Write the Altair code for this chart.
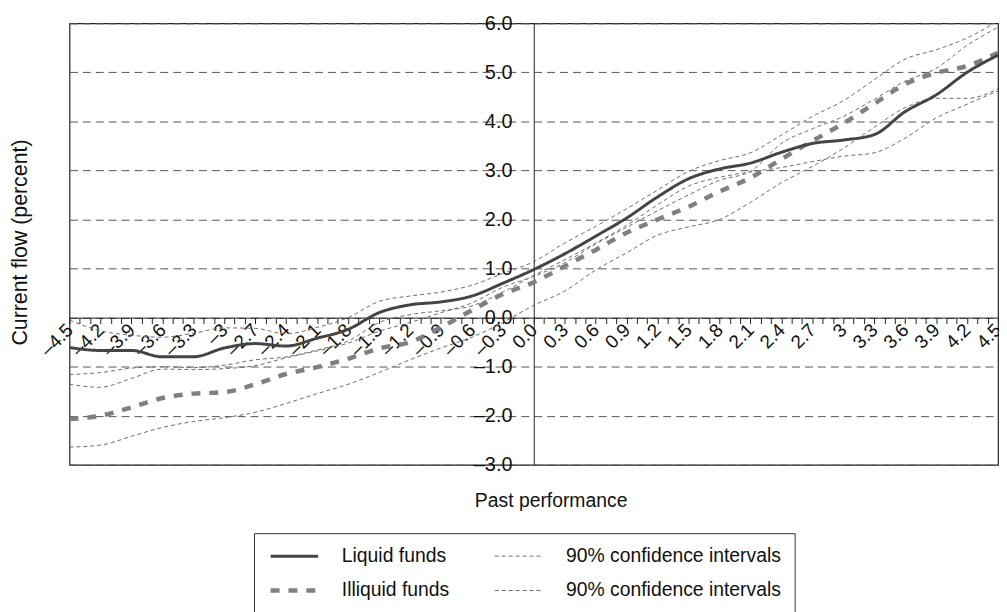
import altair as alt
import pandas as pd

x_vals = [-4.5, -4.2, -3.9, -3.6, -3.3, -3.0, -2.7, -2.4, -2.1, -1.8, -1.5, -1.2, -0.9, -0.6, -0.3,
          0.0, 0.3, 0.6, 0.9, 1.2, 1.5, 1.8, 2.1, 2.4, 2.7, 3.0, 3.3, 3.6, 3.9, 4.2, 4.5]

liquid = [-0.61, -0.67, -0.67, -0.80, -0.80, -0.62, -0.53, -0.58, -0.42, -0.24, 0.10, 0.26, 0.32, 0.44, 0.70,
          0.98, 1.30, 1.66, 2.03, 2.46, 2.83, 3.03, 3.15, 3.37, 3.55, 3.62, 3.73, 4.20, 4.54, 5.00, 5.35]
illiquid = [-2.07, -2.00, -1.83, -1.64, -1.55, -1.52, -1.36, -1.15, -1.01, -0.84, -0.63, -0.50, -0.20, 0.15, 0.48,
            0.72, 1.05, 1.38, 1.73, 2.00, 2.26, 2.57, 2.85, 3.23, 3.60, 3.96, 4.36, 4.76, 4.99, 5.13, 5.40]
liquid_hi = [-0.05, -0.27, -0.36, -0.40, -0.32, -0.21, -0.22, -0.33, -0.20, 0.00, 0.33, 0.44, 0.52, 0.66, 0.90,
             1.14, 1.52, 1.86, 2.22, 2.60, 2.98, 3.20, 3.36, 3.72, 4.10, 4.42, 4.85, 5.27, 5.46, 5.70, 6.05]
liquid_lo = [-1.16, -1.12, -1.03, -1.00, -1.02, -0.97, -0.86, -0.80, -0.66, -0.48, -0.10, 0.06, 0.14, 0.24, 0.52,
             0.86, 1.18, 1.52, 1.88, 2.30, 2.68, 2.86, 2.97, 3.06, 3.18, 3.29, 3.36, 3.66, 4.07, 4.35, 4.62]
illiquid_hi = [-1.36, -1.42, -1.24, -1.05, -1.06, -1.04, -0.98, -0.82, -0.68, -0.52, -0.28, -0.10, 0.10, 0.30, 0.62,
               0.84, 1.12, 1.50, 1.84, 2.18, 2.50, 2.80, 2.98, 3.55, 3.85, 4.10, 4.45, 4.82, 5.08, 5.55, 5.92]
illiquid_lo = [-2.64, -2.60, -2.42, -2.24, -2.12, -2.04, -1.93, -1.75, -1.55, -1.36, -1.12, -0.86, -0.62, -0.40, -0.10,
               0.25, 0.54, 0.97, 1.32, 1.68, 1.85, 2.00, 2.35, 2.75, 3.08, 3.45, 3.88, 4.28, 4.47, 4.47, 4.66]

# legend order: column 1 = the two fund lines, column 2 = their confidence intervals
series_names = ["Liquid funds", "Illiquid funds", "ci_liquid", "ci_illiquid"]
ci_label = "90% confidence intervals"

lines = [
    ("liquid", "Liquid funds", liquid),
    ("illiquid", "Illiquid funds", illiquid),
    ("liquid_hi", "ci_liquid", liquid_hi),
    ("liquid_lo", "ci_liquid", liquid_lo),
    ("illiquid_hi", "ci_illiquid", illiquid_hi),
    ("illiquid_lo", "ci_illiquid", illiquid_lo),
]
rows = []
for line_id, series, vals in lines:
    for xv, yv in zip(x_vals, vals):
        rows.append({"x": xv, "y": yv, "series": series, "line": line_id})
df = pd.DataFrame(rows)

W, H = 936, 445

tick_values = [round((i - 45) / 10, 1) for i in range(91)]
x_label_expr = (
    "abs(round(datum.value*10)) % 3 == 0 ? "
    "(abs(datum.value) == 3 ? (datum.value < 0 ? '\u20133' : '3') : "
    "(datum.value < 0 ? '\u2013' : '') + format(abs(datum.value), '.1f')) : ''"
)
y_label_expr = "(datum.value < 0 ? '\u2013' : '') + format(abs(datum.value), '.1f')"

x_axis = alt.Axis(
    values=tick_values, labelExpr=x_label_expr, labelAngle=-45, labelAlign="right",
    labelBaseline="middle", labelFontSize=19, labelColor="#111", labelPadding=3,
    labelOverlap=False, labelFlush=False, labelBound=False,
    tickSize=6, tickColor="#222", domainColor="#222", grid=False, offset=-H / 3,
    title="Past performance", titleX=W / 2 + 17, titleY=184, titleFontSize=19.5,
    titleFontWeight="normal", titleBaseline="middle", titleAlign="center", titleColor="#111",
)
y_axis = alt.Axis(
    values=list(range(-3, 7)), labelExpr=y_label_expr, offset=-W / 2, ticks=False,
    labelPadding=22, labelFontSize=20, labelColor="#111", domainColor="#222",
    grid=True, gridDash=[8, 5], gridColor="#555", gridWidth=1,
    title="Current flow (percent)", titleX=-W / 2 - 49, titleY=H / 2 - 2, titleAngle=270,
    titleFontSize=21.5, titleFontWeight="normal", titleBaseline="middle", titleAlign="center",
    titleColor="#111",
)

legend = alt.Legend(
    orient="none", legendX=186, legendY=514, columns=2, title=None,
    labelExpr=f"indexof(datum.label, 'ci_') == 0 ? '{ci_label}' : datum.label",
    labelFontSize=19.5, labelColor="#111", labelLimit=400,
    symbolType="M-1,0H7", symbolSize=144,
    strokeColor="#333", padding=13, rowPadding=14, columnPadding=42, labelOffset=56,
)

color_scale = alt.Scale(domain=series_names, range=["#444444", "#808080", "#6b6b6b", "#6b6b6b"])
dash_scale = alt.Scale(domain=series_names, range=[[1, 0], [9, 9], [4, 3], [4, 3]])
width_scale = alt.Scale(type="ordinal", domain=series_names, range=[3, 4.5, 1, 1])


def layer(filter_expr):
    return alt.Chart(df).transform_filter(filter_expr).mark_line(
        interpolate="monotone", clip=True
    ).encode(
        x=alt.X("x:Q", scale=alt.Scale(domain=[-4.5, 4.5], nice=False, zero=False), axis=x_axis),
        y=alt.Y("y:Q", scale=alt.Scale(domain=[-3, 6], nice=False, zero=False), axis=y_axis),
        color=alt.Color("series:N", scale=color_scale, legend=legend),
        strokeDash=alt.StrokeDash("series:N", scale=dash_scale, legend=legend),
        strokeWidth=alt.StrokeWidth("series:N", scale=width_scale, legend=legend),
        detail="line:N",
    )


ci = layer("indexof(datum.series, 'ci_') == 0")
ill = layer("datum.series == 'Illiquid funds'")
liq = layer("datum.series == 'Liquid funds'")

chart = alt.layer(ci, ill, liq).properties(
    width=W, height=H,
    autosize=alt.AutoSizeParams(type="none"),
    padding={"left": 62, "top": 13, "right": 1, "bottom": 146},
).configure(font="Liberation Sans").configure_view(stroke="#222", strokeWidth=1.2)

chart.save("out.html", embed_options={"renderer": "svg", "actions": False})
